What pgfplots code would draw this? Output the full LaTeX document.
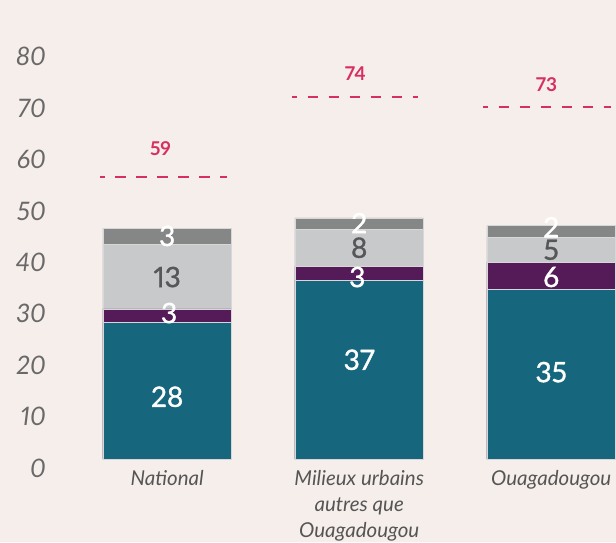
\documentclass[border=0pt]{standalone}
\usepackage{pgfplots}
\pgfplotsset{compat=1.18}
\usepackage{fontspec}
\setmainfont{Lato}[Numbers=Proportional]
\newfontfamily\valfont{Lato}[Numbers=Proportional, FakeBold=1.2]
\definecolor{bg}{RGB}{246,238,235}
\definecolor{teal}{RGB}{22,102,126}
\definecolor{purp}{RGB}{84,27,88}
\definecolor{lgray}{RGB}{200,201,203}
\definecolor{dgray}{RGB}{133,135,134}
\definecolor{redl}{RGB}{214,48,96}
\definecolor{tickc}{RGB}{105,105,105}
\definecolor{catc}{RGB}{85,85,85}
\definecolor{valdark}{RGB}{85,87,89}
\definecolor{sep}{RGB}{215,215,218}
\begin{document}
\begin{tikzpicture}
\path[use as bounding box, fill=bg] (-52pt,-83pt) rectangle (564pt,459pt);
\begin{axis}[
  at={(0pt,0pt)}, anchor=south west,
  scale only axis, width=564.5pt, height=452.3pt,
  xmin=-0.6, xmax=2.34, ymin=0, ymax=88,
  clip=false,
  axis line style={draw=none}, major tick length=0pt,
  ytick={0,10,...,80},
  yticklabel style={anchor=east, inner sep=0pt, xshift=-6pt, yshift=-9pt,
     font=\fontsize{25.5}{30}\selectfont\itshape, text=tickc},
  /pgf/number format/assume math mode=true,
  xtick={0,1,2},
  xticklabels={National,{Milieux urbains\\autres que\\Ouagadougou},Ouagadougou},
  xticklabel style={anchor=north, inner sep=0pt, yshift=-11pt, align=center,
     font=\fontsize{20.5}{26}\selectfont\itshape, text=catc},
]
% cumulative heights (stack drawn back to front)
\addplot[ybar, bar width=128.5pt, bar shift=0pt, fill=dgray, draw=sep, line width=0.6pt]
  coordinates {(0,44.9) (1,46.9) (2,45.4)};
\addplot[ybar, bar width=128.5pt, bar shift=0pt, fill=lgray, draw=sep, line width=0.6pt]
  coordinates {(0,41.8) (1,44.7) (2,43.1)};
\addplot[ybar, bar width=128.5pt, bar shift=0pt, fill=purp, draw=sep, line width=0.6pt]
  coordinates {(0,29.2) (1,37.5) (2,38.3)};
\addplot[ybar, bar width=128.5pt, bar shift=0pt, fill=teal, draw=sep, line width=0.6pt]
  coordinates {(0,26.5) (1,34.8) (2,33.0)};
% dashed reference lines
\addplot[redl, line width=2pt, dash pattern=on 10.7pt off 10.3pt, dash phase=5.7pt]
  coordinates {(-0.349,54.9) (0.3125,54.9)};
\addplot[redl, line width=2pt, dash pattern=on 10.7pt off 10.3pt, dash phase=5.7pt]
  coordinates {(0.651,70.4) (1.307,70.4)};
\addplot[redl, line width=2pt, dash pattern=on 10.7pt off 10.3pt, dash phase=5.7pt]
  coordinates {(1.646,68.5) (2.3125,68.5)};
% white value labels
\addplot[draw=none, mark=none, nodes near coords, point meta=explicit symbolic,
  every node near coord/.style={anchor=center, inner sep=0pt, text=white,
    font=\fontsize{28}{30}\selectfont\valfont}]
  coordinates {(0,12.1)[28] (0.01,28.4)[3] (0.0,43.4)[3]
               (1,19.3)[37] (0.99,35.4)[3] (1.0,45.9)[2]
               (2,16.9)[35] (2.0,35.4)[6] (2.0,45.1)[2]};
% dark value labels
\addplot[draw=none, mark=none, nodes near coords, point meta=explicit symbolic,
  every node near coord/.style={anchor=center, inner sep=0pt, text=valdark,
    font=\fontsize{28}{30}\selectfont\valfont}]
  coordinates {(0,35.4)[13] (1,41.1)[8] (2,40.7)[5]};
% red labels
\addplot[draw=none, mark=none, nodes near coords, point meta=explicit symbolic,
  every node near coord/.style={anchor=center, inner sep=0pt, text=redl,
    font=\fontsize{19}{20}\selectfont\bfseries}]
  coordinates {(-0.035,60.3)[59] (0.98,75.0)[74] (1.975,72.8)[73]};
\end{axis}
\end{tikzpicture}
\end{document}
